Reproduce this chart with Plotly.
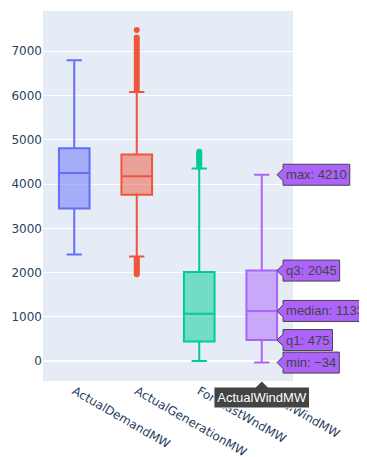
import plotly.graph_objects as go

# ---- data ----
names = ["ActualDemandMW", "ActualGenerationMW", "ForecastWndMW", "ActualWindMW"]
q1 = [3450, 3760, 441, 475]
medians = [4250, 4175, 1070, 1133]
q3 = [4810, 4670, 2010, 2045]
lower_fence = [2410, 2365, 0, -34]
upper_fence = [6800, 6080, 4350, 4210]
outliers_demand = []
outliers_generation = [1960, 2000, 2040, 2080, 2120, 2160, 2200, 2240, 2280, 2320,
                       6120, 6180, 6240, 6300, 6360, 6420, 6480, 6540, 6600, 6660,
                       6720, 6780, 6840, 6900, 6960, 7020, 7080, 7140, 7200, 7260,
                       7310, 7480]
outliers_forecast = [4390, 4430, 4470, 4510, 4550, 4590, 4630, 4670, 4700, 4730]
outliers_wind = []
outliers = [outliers_demand, outliers_generation, outliers_forecast, outliers_wind]
colors = ["#636efa", "#EF553B", "#00cc96", "#ab63fa"]

fig = go.Figure()
for i, n in enumerate(names):
    has_out = len(outliers[i]) > 0
    fig.add_trace(go.Box(
        name=n,
        x=[n],
        y=[outliers[i]] if has_out else None,
        q1=[q1[i]], median=[medians[i]], q3=[q3[i]],
        lowerfence=[lower_fence[i]], upperfence=[upper_fence[i]],
        boxpoints="outliers" if has_out else False,
        marker_color=colors[i],
        line_color=colors[i],
        hoverinfo="x+y",
        showlegend=False,
    ))

fig.update_layout(
    width=367, height=457,
    margin=dict(l=35, r=82, t=3, b=84),
    hovermode="x",
    font=dict(family="Verdana, DejaVu Sans, sans-serif", size=12),
    hoverlabel=dict(font=dict(family="Arial, Liberation Sans, sans-serif", size=13)),
    boxmode="overlay",
)
fig.update_xaxes(tickangle=30, automargin=False)
fig.update_yaxes(range=[-450, 7910], dtick=1000, automargin=False)

post = """
var gd = document.getElementById('{plot_id}');
try { Plotly.Fx.hover(gd, {xval: 3, yval: 1133}, 'xy'); } catch(e) { console.log(e); }
"""
fig.write_html("out.html", post_script=post)
